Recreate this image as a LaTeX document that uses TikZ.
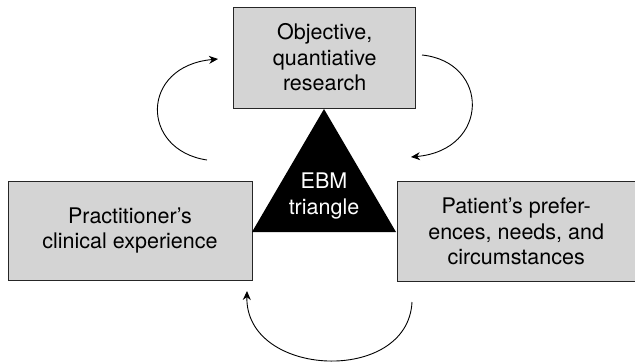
\documentclass[tikz,border=0pt]{standalone}
\usepackage{fontspec}
\setmainfont{TeX Gyre Heros}
\usetikzlibrary{arrows.meta}
\begin{document}
\begin{tikzpicture}[x=1pt,y=-1pt,
  box/.style={draw=black!85,line width=0.9pt,fill=black!17,align=center,
    font=\fontsize{21.5}{25.5}\selectfont,inner sep=0pt},
  cyc/.style={line width=0.9pt,-{Stealth[length=9pt,width=8pt]}}]
\useasboundingbox (0,0) rectangle (635,362);
\node[box,minimum width=182pt,minimum height=101pt] (top) at (324.7,57.5) {Objective,\\quantiative\\research};
\node[box,minimum width=244pt,minimum height=99pt] (left) at (130,230.5) {Practitioner’s\\clinical experience};
\node[box,minimum width=238pt,minimum height=100pt,anchor=west] (right) at (396.7,231.7) {Patient’s prefer-\\ences, needs, and\\circumstances};
\coordinate (apex) at (324,109);
\coordinate (bl) at (252,232);
\coordinate (br) at (396,232);
\fill[black] (apex) -- (br) -- (bl) -- cycle;
\node[text=white,align=center,font=\fontsize{21.5}{25.5}\selectfont,inner sep=0pt] (ebm) at (324,196) {EBM\\triangle};
\coordinate (a1s) at (207,160);
\coordinate (a1e) at (218,59);
\coordinate (a2s) at (422,55);
\coordinate (a2e) at (411,157);
\coordinate (a3s) at (412,302);
\coordinate (a3e) at (247,291);
\draw[cyc] (a1s) .. controls (140,150) and (140,66) .. (a1e);
\draw[cyc] (a2s) .. controls (490,62) and (490,150) .. (a2e);
\draw[cyc] (a3s) .. controls (408,385) and (245,378) .. (a3e);
\end{tikzpicture}
\end{document}
